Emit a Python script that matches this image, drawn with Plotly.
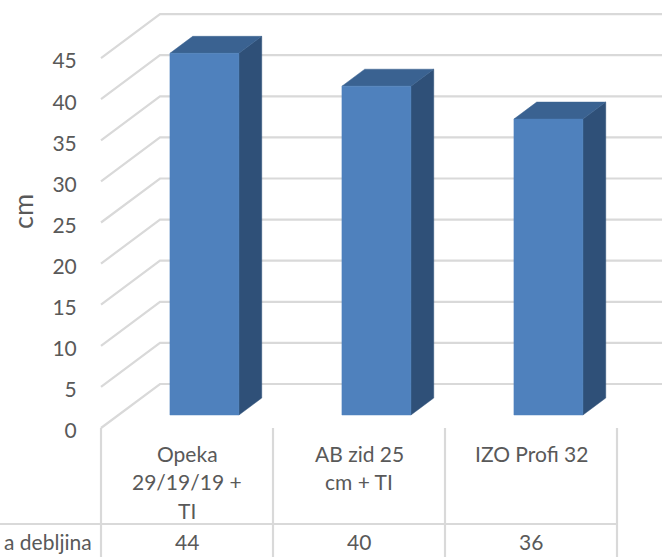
import plotly.graph_objects as go

categories = ["Opeka<br>29/19/19 +<br>TI", "AB zid 25<br>cm + TI", "IZO Profi 32"]
values = [44, 40, 36]
row_label = "a debljina"
y_ticks = [0, 5, 10, 15, 20, 25, 30, 35, 40, 45]
axis_title = "cm"

W, H = 662, 557
LEFT, FLOOR_PX, CAT_PX, UNIT_PX = 101, 428, 172, 8.22
DX, DY = 59 / CAT_PX, 44 / UNIT_PX      # full depth of the floor in axis units
BAR_FRONT, BAR_BACK = 13 / 44, 30 / 44  # depth fractions of a bar
BAR_W = 69 / CAT_PX
GRID = "#d9d9d9"
TEXT = "#595959"
FONT = "Lato"
FS = 21

px_x = lambda p: (p - LEFT) / CAT_PX
px_y = lambda p: (FLOOR_PX - p) / UNIT_PX
XR = [px_x(0), px_x(W)]
YR = [px_y(H), px_y(0)]

fig = go.Figure()


def line(xs, ys, width=2.2):
    fig.add_trace(go.Scatter(x=xs, y=ys, mode="lines", hoverinfo="skip",
                             line=dict(color=GRID, width=width), showlegend=False))


def face(xs, ys, color):
    fig.add_trace(go.Scatter(x=xs, y=ys, mode="lines", fill="toself", fillcolor=color,
                             line=dict(color=color, width=0.5), hoverinfo="skip", showlegend=False))


# walls
for v in y_ticks:
    line([0, DX, XR[1]], [v, v + DY, v + DY])

# data-table lines
table_top = px_y(524)
for i in range(len(values) + 1):
    line([i, i], [0, YR[0]])
line([XR[0], len(values)], [table_top, table_top])

# bars in oblique projection
for i, v in enumerate(values):
    x0 = i + 0.5 - BAR_W / 2 + BAR_FRONT * DX
    x1 = x0 + BAR_W
    y0 = BAR_FRONT * DY
    ox, oy = (BAR_BACK - BAR_FRONT) * DX, (BAR_BACK - BAR_FRONT) * DY
    face([x1, x1 + ox, x1 + ox, x1, x1], [y0, y0 + oy, y0 + oy + v, y0 + v, y0], "#2f5078")
    face([x0, x1, x1 + ox, x0 + ox, x0], [y0 + v, y0 + v, y0 + v + oy, y0 + v + oy, y0 + v], "#3a6291")
    face([x0, x1, x1, x0, x0], [y0, y0, y0 + v, y0 + v, y0], "#4f81bd")

ann = []
font = dict(family=FONT, size=FS, color=TEXT)
for i, c in enumerate(categories):
    for j, part in enumerate(c.split("<br>")):
        ann.append(dict(x=i + 0.5, y=px_y(453 + j * 28.5), text=part, showarrow=False, font=font,
                        xanchor="center", yanchor="middle"))
for i, v in enumerate(values):
    ann.append(dict(x=i + 0.5, y=px_y(541), text=str(v), showarrow=False, font=font,
                    xanchor="center", yanchor="middle"))
ann.append(dict(x=px_x(94), y=px_y(541), text=row_label, showarrow=False, font=font,
                xanchor="right", yanchor="middle"))
ann.append(dict(x=px_x(22), y=px_y(212), text=axis_title, showarrow=False,
                font=dict(family=FONT, size=27, color=TEXT), textangle=-90,
                xanchor="center", yanchor="middle"))

fig.update_layout(
    width=W, height=H, autosize=False, margin=dict(l=0, r=0, t=0, b=0),
    paper_bgcolor="white", plot_bgcolor="white", showlegend=False, annotations=ann,
    xaxis=dict(range=XR, visible=False, fixedrange=True),
    yaxis=dict(range=YR, tickmode="array", tickvals=y_ticks, showgrid=False, zeroline=False,
               showline=False, ticks="outside", ticklen=20, tickcolor="rgba(0,0,0,0)",
               tickfont=font, fixedrange=True, anchor="free", position=LEFT / W,
               ticklabelshift=3),
)
fig.write_html("out.html", post_script="document.body.style.margin='0';", config=dict(displayModeBar=False))
